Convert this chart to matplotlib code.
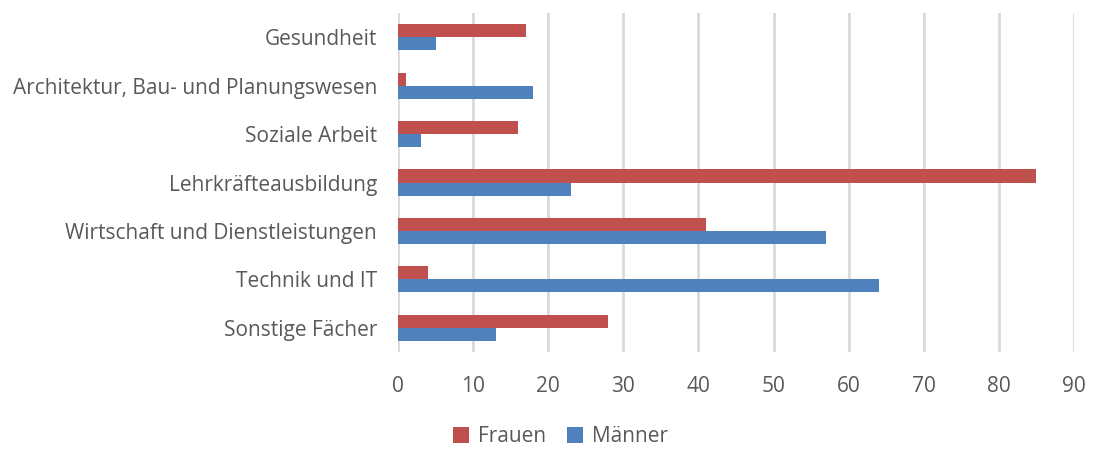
import matplotlib.pyplot as plt
import numpy as np

plt.rcParams['font.family'] = ['Open Sans', 'DejaVu Sans']

categories = ['Gesundheit', 'Architektur, Bau- und Planungswesen', 'Soziale Arbeit',
              'Lehrkräfteausbildung', 'Wirtschaft und Dienstleistungen',
              'Technik und IT', 'Sonstige Fächer']
frauen = [17, 1, 16, 85, 41, 4, 28]
maenner = [5, 18, 3, 23, 57, 64, 13]
xticks = [0, 10, 20, 30, 40, 50, 60, 70, 80, 90]

red = '#C0504D'
blue = '#4F81BD'
txt = '#595959'

fig = plt.figure(figsize=(10.94, 4.49), dpi=100)
ax = fig.add_axes([0.3638, 0.216, 0.6179, 0.755])

y = np.arange(len(categories))
h = 0.27
ax.barh(y - h / 2, frauen, height=h, color=red, label='Frauen', zorder=3)
ax.barh(y + h / 2, maenner, height=h, color=blue, label='Männer', zorder=3)

ax.set_ylim(len(categories) - 0.5, -0.5)
ax.set_xlim(0, 90)
ax.set_xticks(xticks)
ax.set_yticks(y)
ax.set_yticklabels(categories)
ax.grid(axis='x', color='#D9D9D9', linewidth=2, zorder=0)
for s in ax.spines.values():
    s.set_visible(False)
ax.tick_params(axis='both', length=0, labelsize=15, colors=txt)
ax.tick_params(axis='x', pad=17)
ax.tick_params(axis='y', pad=15)

fig.legend(loc='center', bbox_to_anchor=(0.512, 0.027), ncol=2, frameon=False,
           fontsize=15, labelcolor=txt, handlelength=0.8, handleheight=0.8,
           handletextpad=0.4, columnspacing=1.0)

fig.savefig('out.png', dpi=100)
